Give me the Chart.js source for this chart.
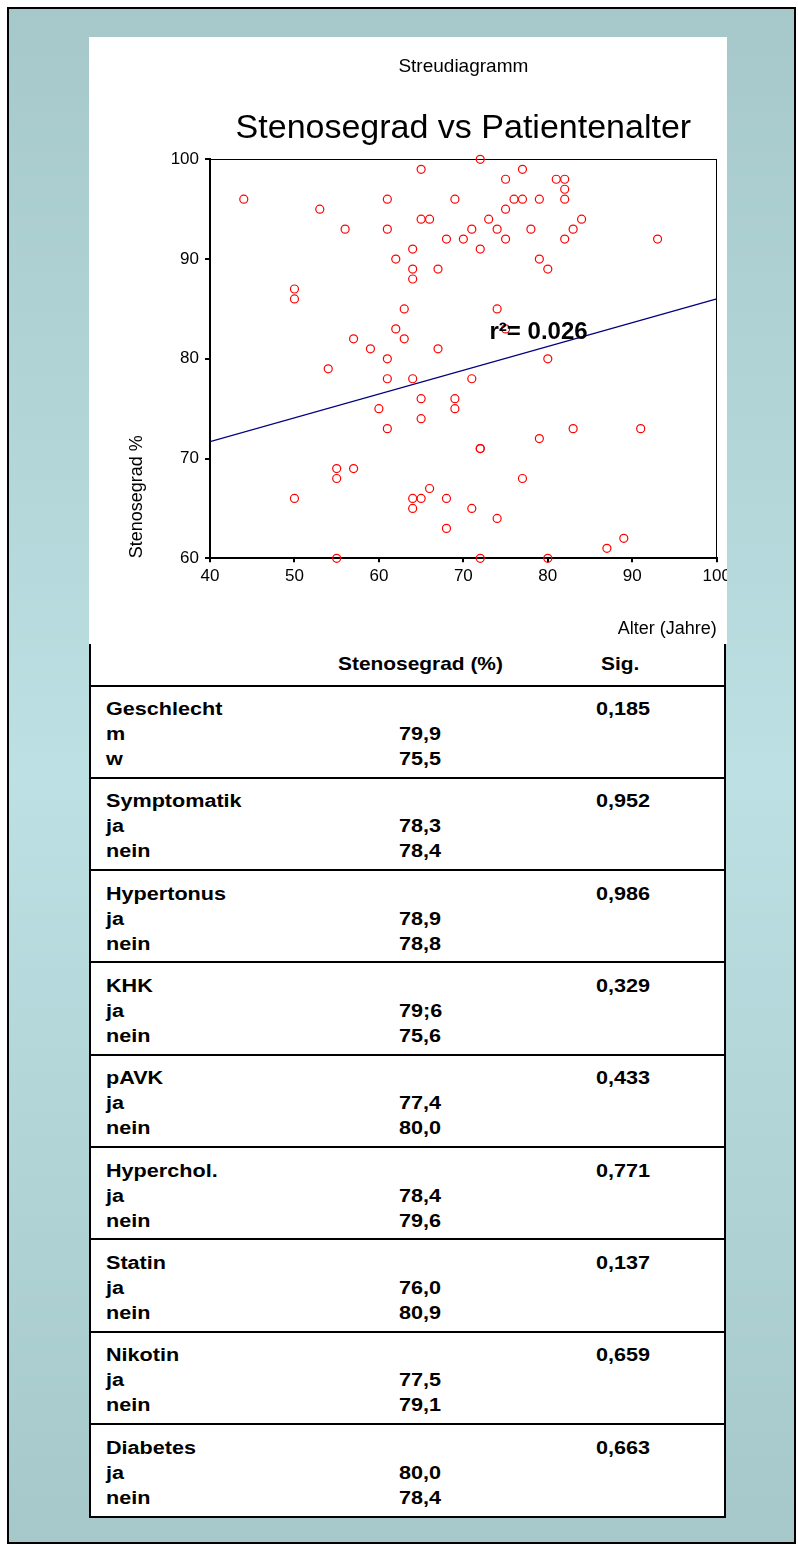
<!DOCTYPE html>
<html>
<head>
<meta charset="utf-8">
<script src="https://cdn.jsdelivr.net/npm/chart.js@4.4.1/dist/chart.umd.min.js"></script>
<style>
  html, body { margin: 0; padding: 0; background: #fff; }
  body { width: 798px; height: 1546px; position: relative; overflow: hidden; font-family: "Liberation Sans", Arial, sans-serif; }
  #frame { position: absolute; left: 7px; top: 7px; width: 785px; height: 1533px; border: 2px solid #000;
           background: linear-gradient(to bottom, #a6c8ca 0%, #bce0e3 50%, #a6c8ca 100%); }
  #panel { position: absolute; left: 89px; top: 37px; width: 638px; height: 607px; background: #fff; overflow: hidden; }
  #panel canvas { position: absolute; left: 0; top: 0; }
  #table { position: absolute; left: 89px; top: 644px; width: 633px; height: 872px; background: #fff;
           border: 2px solid #000; border-top: none; }
  .t { position: absolute; white-space: nowrap; font-weight: bold; font-size: 18px; line-height: 20px;
       transform: scaleX(1.2); transform-origin: 0 50%; color: #000; }
  .t.h { font-size: 19px; transform: scaleX(1.1); }
  .rule { position: absolute; left: 0; width: 633px; height: 2px; background: #000; }
</style>
</head>
<body>
<div id="frame"></div>
<div id="panel"><canvas id="scatter" width="660" height="607" style="width:660px;height:607px"></canvas></div>
<div id="table"></div>

<script>
// --- Data ---
const ages = [
  44, 53, 56, 61, 61, 65, 65, 66, 69, 68, 70, 64, 62, 64, 64, 67, 50, 50, 63, 62, 63, 57, 59, 67, 61,
  72, 77, 75, 81, 82, 82, 76, 77, 79, 82, 75, 73, 84, 71, 74, 78, 83, 75, 82, 93, 72, 79, 80, 74, 75, 80,
  54, 61, 64, 60, 61, 65, 65, 69, 69, 55, 55, 57, 50, 64, 64, 65, 66, 68, 68, 55,
  71, 83, 91, 79, 72, 72, 77, 71, 74, 89, 87, 72, 80
];
const stenosis = [
  96, 95, 93, 96, 93, 99, 94, 94, 96, 92, 92, 91, 90, 89, 88, 89, 87, 86, 85, 83, 82, 82, 81, 81, 80,
  100, 99, 98, 98, 98, 97, 96, 96, 96, 96, 95, 94, 94, 93, 93, 93, 93, 92, 92, 92, 91, 90, 89, 85, 83, 80,
  79, 78, 78, 75, 73, 76, 74, 76, 75, 69, 68, 69, 66, 66, 65, 66, 67, 66, 63, 60,
  78, 73, 73, 72, 71, 71, 68, 65, 64, 62, 61, 60, 60
];
const trendAge = [40, 100];
const trendStenosis = [71.7, 86.0];
const xTickValues = [40, 50, 60, 70, 80, 90, 100];
const yTickValues = [60, 70, 80, 90, 100];

const subTitleText = 'Streudiagramm';
const titleText = 'Stenosegrad vs Patientenalter';
const rLabel = 'r\u00B2= 0.026';
const rLabelAt = { x: 73.1, y: 81.95 };

// --- Data for the table below ---
const groups = ['Geschlecht', 'Symptomatik', 'Hypertonus', 'KHK', 'pAVK', 'Hyperchol.', 'Statin', 'Nikotin', 'Diabetes'];
const sigValues = ['0,185', '0,952', '0,986', '0,329', '0,433', '0,771', '0,137', '0,659', '0,663'];
const rowLabels = [['m', 'w'], ['ja', 'nein'], ['ja', 'nein'], ['ja', 'nein'], ['ja', 'nein'],
                   ['ja', 'nein'], ['ja', 'nein'], ['ja', 'nein'], ['ja', 'nein']];
const rowValues = [['79,9', '75,5'], ['78,3', '78,4'], ['78,9', '78,8'], ['79;6', '75,6'], ['77,4', '80,0'],
                   ['78,4', '79,6'], ['76,0', '80,9'], ['77,5', '79,1'], ['80,0', '78,4']];

const FONT = '"Liberation Sans", Arial, sans-serif';

// --- Table ---
const table = document.getElementById('table');
function addText(txt, left, centerY, cls) {
  const el = document.createElement('div');
  el.className = 't' + (cls ? ' ' + cls : '');
  el.textContent = txt;
  el.style.left = left + 'px';
  el.style.top = (centerY - 10) + 'px';
  table.appendChild(el);
}
function addRule(centerY) {
  const el = document.createElement('div');
  el.className = 'rule';
  el.style.top = (centerY - 1) + 'px';
  table.appendChild(el);
}
// coordinates relative to the table box (page x - 91, page y - 644)
addText('Stenosegrad (%)', 247, 20, 'h');
addText('Sig.', 510, 20, 'h');
const firstLine = 41.5, step = 92.33;
addRule(firstLine);
groups.forEach((g, i) => {
  const L = firstLine + step * i;
  if (i > 0) addRule(L);
  addText(g, 15, L + 23.5);
  addText(sigValues[i], 505, L + 23.5);
  rowLabels[i].forEach((lab, j) => {
    addText(lab, 15, L + 48.5 + 25 * j);
    addText(rowValues[i][j], 308, L + 48.5 + 25 * j);
  });
});

// --- Chart ---
const points = ages.map((a, i) => ({ x: a, y: stenosis[i] }));
const trend = trendAge.map((a, i) => ({ x: a, y: trendStenosis[i] }));

const titlesPlugin = {
  id: 'titles',
  afterDraw(chart) {
    const { ctx, chartArea } = chart;
    const cx = (chartArea.left + chartArea.right) / 2;
    ctx.save();
    ctx.fillStyle = '#000';
    ctx.textAlign = 'center';
    ctx.textBaseline = 'alphabetic';
    ctx.font = '19px ' + FONT;
    ctx.fillText(subTitleText, cx, 35.3);
    ctx.font = '34px ' + FONT;
    ctx.fillText(titleText, cx, 100.7);
    ctx.textAlign = 'left';
    ctx.font = 'bold 24px ' + FONT;
    ctx.fillText(rLabel, chart.scales.x.getPixelForValue(rLabelAt.x), chart.scales.y.getPixelForValue(rLabelAt.y));
    ctx.restore();
  }
};

const ctx = document.getElementById('scatter').getContext('2d');
new Chart(ctx, {
  type: 'scatter',
  data: {
    datasets: [
      {
        label: 'Patienten',
        data: points,
        showLine: false,
        pointStyle: 'circle',
        pointRadius: 4,
        pointHoverRadius: 4,
        borderColor: '#ff0000',
        backgroundColor: 'rgba(0,0,0,0)',
        pointBorderColor: '#ff0000',
        pointBackgroundColor: 'rgba(0,0,0,0)',
        borderWidth: 1.2,
        pointBorderWidth: 1.2,
        clip: false
      },
      {
        type: 'line',
        label: 'Regression',
        data: trend,
        borderColor: '#000080',
        borderWidth: 1.3,
        pointRadius: 0,
        fill: false,
        tension: 0
      }
    ]
  },
  options: {
    responsive: false,
    animation: false,
    devicePixelRatio: 1,
    layout: { padding: { left: 0, top: 122.3, right: 32.3, bottom: 0 } },
    plugins: { legend: { display: false }, tooltip: { enabled: false }, title: { display: false } },
    scales: {
      x: {
        type: 'linear', position: 'bottom', min: 40, max: 100,
        afterBuildTicks: s => { s.ticks = xTickValues.map(v => ({ value: v })); },
        afterFit: s => { s.height = 85.7; },
        grid: { drawOnChartArea: false, drawTicks: true, tickLength: 4, color: '#000', lineWidth: 2 },
        border: { display: true, color: '#000', width: 2 },
        ticks: { color: '#000', font: { family: FONT, size: 17 }, padding: 4, maxRotation: 0, autoSkip: false },
        title: { display: true, text: 'Alter (Jahre)', align: 'end', color: '#000',
                 font: { family: FONT, size: 18 }, padding: { top: 0, bottom: 4 } }
      },
      y: {
        type: 'linear', position: 'left', min: 60, max: 100,
        afterBuildTicks: s => { s.ticks = yTickValues.map(v => ({ value: v })); },
        afterFit: s => { s.width = 121; },
        grid: { drawOnChartArea: false, drawTicks: true, tickLength: 5, color: '#000', lineWidth: 2 },
        border: { display: true, color: '#000', width: 2 },
        ticks: { color: '#000', font: { family: FONT, size: 17 }, padding: 6, autoSkip: false },
        title: { display: true, text: 'Stenosegrad %', align: 'start', color: '#000',
                 font: { family: FONT, size: 18 }, padding: { top: 37, bottom: 0 } }
      },
      x2: {
        type: 'linear', position: 'top', min: 40, max: 100,
        grid: { drawOnChartArea: false, drawTicks: false },
        ticks: { display: false },
        border: { display: true, color: '#000', width: 1 }
      },
      y2: {
        type: 'linear', position: 'right', min: 60, max: 100,
        grid: { drawOnChartArea: false, drawTicks: false },
        ticks: { display: false },
        border: { display: true, color: '#000', width: 1 }
      }
    }
  },
  plugins: [titlesPlugin]
});
</script>
</body>
</html>
